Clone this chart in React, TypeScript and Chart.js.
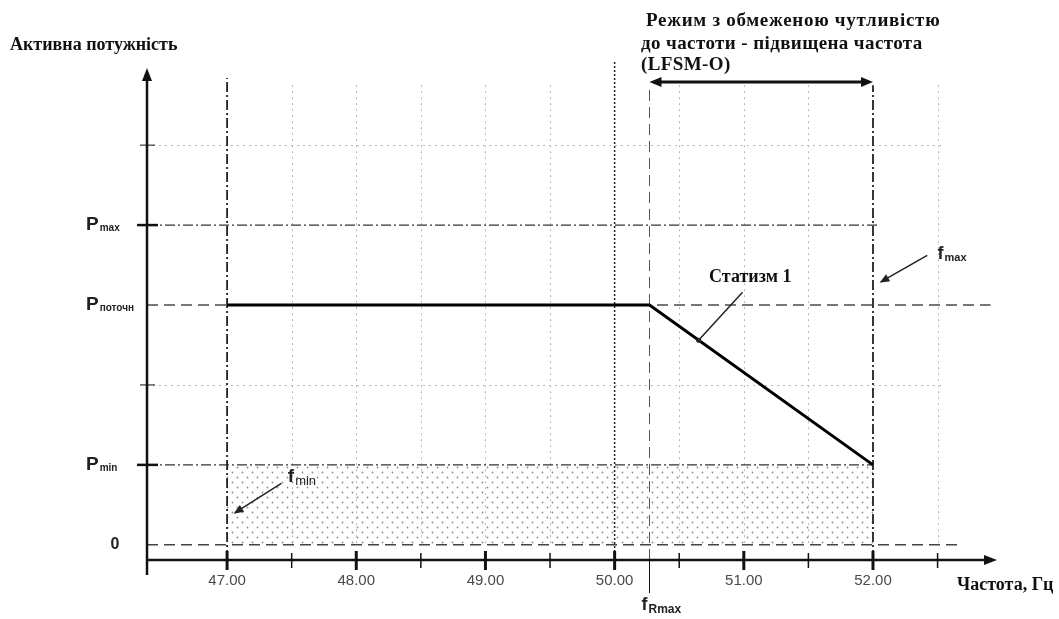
import React, { useEffect, useRef } from "react";
import { Chart, registerables } from "chart.js";

Chart.register(...registerables);

// ---------------- data ----------------
const xTickValues = [47, 48, 49, 50, 51, 52];
const xTickLabels = ["47.00", "48.00", "49.00", "50.00", "51.00", "52.00"];
const xMinorTickValues = [47.5, 48.5, 49.5, 50.5, 51.5, 52.5];
const gridXValues = [47.5, 48, 48.5, 49, 49.5, 50.5, 51, 51.5, 52.5];
const gridYValues = [2, 5];
const yMarkValues = [4, 3, 1, 0];
const yMarkMain = ["P", "P", "P", "0"];
const yMarkSub = ["max", "поточн", "min", ""];
const droopFreq = [47, 50.27, 52];
const droopPower = [3, 3, 1];

const F_MIN = 47;
const F_NOM = 50;
const F_RMAX = 50.27;
const F_MAX = 52;
const P_MAX = 4;
const P_CUR = 3;
const P_MIN = 1;
const P_ZERO = 0;

const X_MIN = 46.38;
const X_MAX = 52.96;
const Y_MIN = -0.19;
const Y_MAX = 5.94;

const seg = (x1: number, y1: number, x2: number, y2: number) => [
  { x: x1, y: y1 },
  { x: x2, y: y2 },
];

const SERIF = '"Liberation Serif", "Times New Roman", serif';
const SANS = '"Liberation Sans", Arial, sans-serif';

function arrowHead(ctx: CanvasRenderingContext2D, x1: number, y1: number, x2: number, y2: number, len: number, w: number) {
  const a = Math.atan2(y2 - y1, x2 - x1);
  ctx.beginPath();
  ctx.moveTo(x2, y2);
  ctx.lineTo(x2 - len * Math.cos(a) + w * Math.sin(a), y2 - len * Math.sin(a) - w * Math.cos(a));
  ctx.lineTo(x2 - len * Math.cos(a) - w * Math.sin(a), y2 - len * Math.sin(a) + w * Math.cos(a));
  ctx.closePath();
  ctx.fill();
}

function arrow(ctx: CanvasRenderingContext2D, x1: number, y1: number, x2: number, y2: number, lw: number, len: number, w: number) {
  const a = Math.atan2(y2 - y1, x2 - x1);
  ctx.lineWidth = lw;
  ctx.beginPath();
  ctx.moveTo(x1, y1);
  ctx.lineTo(x2 - len * 0.7 * Math.cos(a), y2 - len * 0.7 * Math.sin(a));
  ctx.stroke();
  arrowHead(ctx, x1, y1, x2, y2, len, w);
}

function subText(ctx: CanvasRenderingContext2D, main: string, sub: string, x: number, y: number, mainFont: string, subFont: string, dy: number) {
  ctx.textAlign = "left";
  ctx.textBaseline = "middle";
  ctx.font = mainFont;
  ctx.fillText(main, x, y);
  const w = ctx.measureText(main).width;
  ctx.font = subFont;
  ctx.fillText(sub, x + w + 1, y + dy);
}

const decoPlugin = {
  id: "deco",
  beforeDatasetsDraw(chart: any) {
    const { ctx, scales, chartArea } = chart;
    const x = scales.x;
    const y = scales.y;
    ctx.save();
    ctx.strokeStyle = "#b8b8b8";
    ctx.lineWidth = 1;
    ctx.setLineDash([2, 4]);
    gridXValues.forEach((v) => {
      const px = Math.round(x.getPixelForValue(v)) + 0.5;
      ctx.beginPath();
      ctx.moveTo(px, y.getPixelForValue(5.75));
      ctx.lineTo(px, y.getPixelForValue(P_ZERO));
      ctx.stroke();
    });
    gridYValues.forEach((v) => {
      const py = Math.round(y.getPixelForValue(v)) + 0.5;
      ctx.beginPath();
      ctx.moveTo(chartArea.left, py);
      ctx.lineTo(x.getPixelForValue(52.55), py);
      ctx.stroke();
    });
    ctx.restore();
  },
  afterDatasetsDraw(chart: any) {
    const { ctx, scales, chartArea } = chart;
    const x = scales.x;
    const y = scales.y;
    const L = chartArea.left;
    const B = chartArea.bottom;
    ctx.save();
    ctx.setLineDash([]);
    ctx.strokeStyle = "#111";
    ctx.fillStyle = "#111";

    // axes
    ctx.lineWidth = 2.5;
    ctx.beginPath();
    ctx.moveTo(L, B + 15);
    ctx.lineTo(L, chartArea.top + 8);
    ctx.stroke();
    arrowHead(ctx, L, B, L, chartArea.top - 2, 13, 5);
    ctx.beginPath();
    ctx.moveTo(L, B);
    ctx.lineTo(chartArea.right - 8, B);
    ctx.stroke();
    arrowHead(ctx, L, B, chartArea.right, B, 13, 5);

    // x ticks
    xTickValues.forEach((v) => {
      const px = x.getPixelForValue(v);
      ctx.lineWidth = 3;
      ctx.beginPath();
      ctx.moveTo(px, B - 9);
      ctx.lineTo(px, B + 10);
      ctx.stroke();
    });
    xMinorTickValues.forEach((v) => {
      const px = x.getPixelForValue(v);
      ctx.lineWidth = 1.5;
      ctx.beginPath();
      ctx.moveTo(px, B - 7);
      ctx.lineTo(px, B + 8);
      ctx.stroke();
    });
    // fRmax drop line below axis
    const pxR = x.getPixelForValue(F_RMAX);
    ctx.lineWidth = 1;
    ctx.beginPath();
    ctx.moveTo(pxR, B);
    ctx.lineTo(pxR, B + 33);
    ctx.stroke();

    // y ticks
    [P_MAX, P_MIN].forEach((v) => {
      const py = y.getPixelForValue(v);
      ctx.lineWidth = 2.5;
      ctx.beginPath();
      ctx.moveTo(L - 10, py);
      ctx.lineTo(L + 11, py);
      ctx.stroke();
    });
    gridYValues.forEach((v) => {
      const py = y.getPixelForValue(v);
      ctx.lineWidth = 1;
      ctx.beginPath();
      ctx.moveTo(L - 7, py);
      ctx.lineTo(L + 8, py);
      ctx.stroke();
    });

    // LFSM-O double arrow
    const ya = y.getPixelForValue(5.79);
    const xa1 = x.getPixelForValue(F_RMAX);
    const xa2 = x.getPixelForValue(F_MAX);
    ctx.lineWidth = 3;
    ctx.beginPath();
    ctx.moveTo(xa1 + 8, ya);
    ctx.lineTo(xa2 - 8, ya);
    ctx.stroke();
    arrowHead(ctx, xa2, ya, xa1, ya, 12, 5);
    arrowHead(ctx, xa1, ya, xa2, ya, 12, 5);

    // pointer arrows
    ctx.strokeStyle = "#222";
    ctx.fillStyle = "#222";
    arrow(ctx, x.getPixelForValue(47.42), y.getPixelForValue(0.77), x.getPixelForValue(47.05), y.getPixelForValue(0.39), 1.5, 10, 4);
    arrow(ctx, x.getPixelForValue(52.42), y.getPixelForValue(3.62), x.getPixelForValue(52.05), y.getPixelForValue(3.28), 1.5, 10, 4);
    // statism leader
    const sx1 = x.getPixelForValue(50.99);
    const sy1 = y.getPixelForValue(3.16);
    const sx2 = x.getPixelForValue(50.65);
    const sy2 = y.getPixelForValue(2.56);
    ctx.lineWidth = 1.5;
    ctx.beginPath();
    ctx.moveTo(sx1, sy1);
    ctx.lineTo(sx2, sy2);
    ctx.stroke();
    ctx.beginPath();
    ctx.arc(sx2, sy2, 2.5, 0, Math.PI * 2);
    ctx.fill();

    // x tick labels
    ctx.fillStyle = "#4a4a4a";
    ctx.font = `15px ${SANS}`;
    ctx.textAlign = "center";
    ctx.textBaseline = "middle";
    xTickValues.forEach((v, i) => {
      ctx.fillText(xTickLabels[i], x.getPixelForValue(v), B + 21);
    });

    // y labels
    ctx.fillStyle = "#222";
    yMarkValues.forEach((v, i) => {
      const py = y.getPixelForValue(v);
      if (yMarkSub[i]) {
        subText(ctx, yMarkMain[i], yMarkSub[i], L - 61, py, `bold 19px ${SANS}`, `bold 10px ${SANS}`, 3);
      } else {
        ctx.font = `bold 16px ${SANS}`;
        ctx.textAlign = "center";
        ctx.fillText(yMarkMain[i], L - 32, py);
      }
    });

    // f labels
    subText(ctx, "f", "min", x.getPixelForValue(47.47), y.getPixelForValue(0.85), `bold 19px ${SANS}`, `13px ${SANS}`, 5);
    subText(ctx, "f", "max", x.getPixelForValue(52.5), y.getPixelForValue(3.64), `bold 18px ${SANS}`, `bold 11px ${SANS}`, 4);
    subText(ctx, "f", "Rmax", pxR - 8, B + 45, `bold 18px ${SANS}`, `bold 12px ${SANS}`, 5);

    // serif annotations
    ctx.fillStyle = "#111";
    ctx.textBaseline = "middle";
    ctx.textAlign = "center";
    ctx.font = `bold 18px ${SERIF}`;
    ctx.fillText("Статизм 1", x.getPixelForValue(51.05), y.getPixelForValue(3.34));

    ctx.textAlign = "left";
    ctx.font = `bold 18px ${SERIF}`;
    ctx.fillText("Активна потужність", 10, 45);
    ctx.fillText("Частота, Гц", 957, 585);
    ctx.font = `bold 19px ${SERIF}`;
    (ctx as any).letterSpacing = "0.7px";
    ctx.fillText("Режим з обмеженою чутливістю", 646, 21);
    (ctx as any).letterSpacing = "0.4px";
    ctx.fillText("до частоти - підвищена частота", 641, 44);
    ctx.fillText("(LFSM-O)", 641, 65);
    (ctx as any).letterSpacing = "0px";
    ctx.restore();
  },
};

export default function App() {
  const ref = useRef<HTMLCanvasElement | null>(null);

  useEffect(() => {
    if (!ref.current) return;
    const pc = document.createElement("canvas");
    pc.width = 10;
    pc.height = 10;
    const pctx = pc.getContext("2d")!;
    pctx.fillStyle = "#8e8e8e";
    pctx.beginPath();
    pctx.arc(2.5, 2.5, 0.9, 0, Math.PI * 2);
    pctx.arc(7.5, 7.5, 0.9, 0, Math.PI * 2);
    pctx.fill();
    const mainCtx = ref.current.getContext("2d")!;
    const pattern = mainCtx.createPattern(pc, "repeat");

    const dashDot = [10, 3, 2, 3];
    const dashed = [11, 6];
    const refLine = (data: any[], color: string, width: number, dash: number[]) => ({
      data,
      borderColor: color,
      borderWidth: width,
      borderDash: dash,
      pointRadius: 0,
      fill: false,
      clip: false as any,
      order: 1,
    });

    const chart = new Chart(ref.current, {
      type: "line",
      data: {
        datasets: [
          {
            data: droopFreq.map((f, i) => ({ x: f, y: droopPower[i] })),
            borderColor: "#000",
            borderWidth: 3,
            pointRadius: 0,
            fill: false,
            order: 0,
          },
          refLine(seg(F_MIN, Y_MIN, F_MIN, 5.84), "#222", 1.8, dashDot),
          refLine(seg(F_MAX, Y_MIN, F_MAX, 5.75), "#222", 1.8, dashDot),
          refLine(seg(F_NOM, Y_MIN, F_NOM, 6.06), "#222", 1.5, [2, 2]),
          refLine(seg(F_RMAX, Y_MIN, F_RMAX, 5.7), "#555", 1, dashed),
          refLine(seg(X_MIN, P_MAX, 52.05, P_MAX), "#333", 1.3, dashDot),
          refLine(seg(X_MIN, P_CUR, 52.91, P_CUR), "#777", 1.8, dashed),
          refLine(seg(X_MIN, P_MIN, F_MAX, P_MIN), "#333", 1.3, dashDot),
          refLine(seg(X_MIN, P_ZERO, 52.68, P_ZERO), "#444", 1.6, dashed),
          {
            data: seg(F_MIN, P_MIN, F_MAX, P_MIN),
            borderColor: "rgba(0,0,0,0)",
            borderWidth: 0,
            backgroundColor: pattern as any,
            pointRadius: 0,
            fill: { value: 0 } as any,
            order: 2,
          },
        ] as any,
      },
      options: {
        responsive: false,
        animation: false,
        layout: { padding: { left: 147, right: 62, top: 70, bottom: 59 } },
        plugins: { legend: { display: false }, tooltip: { enabled: false } },
        scales: {
          x: { type: "linear", min: X_MIN, max: X_MAX, display: false },
          y: { type: "linear", min: Y_MIN, max: Y_MAX, display: false },
        },
      },
      plugins: [decoPlugin],
    });
    return () => chart.destroy();
  }, []);

  return (
    <div style={{ position: "absolute", left: 0, top: 0, width: 1059, height: 619, background: "#fff" }}>
      <canvas ref={ref} width={1059} height={619} style={{ display: "block" }} />
    </div>
  );
}
